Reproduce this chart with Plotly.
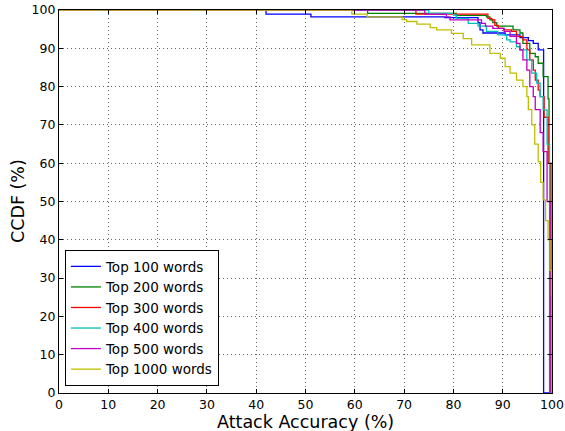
import plotly.graph_objects as go

names = ["Top 100 words", "Top 200 words", "Top 300 words",
         "Top 400 words", "Top 500 words", "Top 1000 words"]
colors = ["#0000ff", "#008000", "#ff0000", "#00bfbf", "#bf00bf", "#bfbf00"]

x_top100 = [0, 42.0, 51.1, 78.3, 85.0, 85.4, 86.0, 90.5, 93.5, 95.2, 96.2, 97.2, 98.3, 100]
y_top100 = [100, 98.9, 98.2, 98.0, 96.7, 94.8, 94.0, 93.5, 92.8, 92.0, 91.3, 89.6, 0, 0]

x_top200 = [0, 62.6, 80.6, 86.7, 87.4, 88.0, 88.8, 92.1, 93.5, 94.1, 95.5, 96.6, 97.2, 98.2, 99.2, 99.4, 99.6, 100]
y_top200 = [100, 99.1, 98.6, 98.2, 97.4, 96.7, 95.8, 94.8, 94.0, 91.3, 88.7, 87.8, 86.1, 82.6, 76.8, 60.0, 0, 0]

x_top300 = [0, 72.4, 87.0, 87.8, 88.4, 89.1, 90.2, 91.8, 92.8, 94.1, 94.9, 95.5, 96.2, 96.6, 97.2, 97.6, 98.4, 99.2, 99.8, 100]
y_top300 = [100, 98.9, 97.8, 97.4, 96.0, 95.2, 94.8, 94.4, 93.1, 92.2, 89.6, 87.0, 84.3, 81.7, 79.1, 77.4, 72.0, 60.0, 0, 0]

x_top400 = [0, 75.0, 80.0, 80.6, 83.0, 85.0, 86.7, 89.0, 90.8, 91.5, 92.8, 93.5, 94.9, 95.9, 96.9, 97.6, 98.2, 99.0, 99.5, 100]
y_top400 = [100, 99.1, 98.7, 97.8, 96.5, 95.8, 94.4, 93.5, 92.2, 91.7, 90.4, 89.6, 87.0, 83.5, 80.9, 77.4, 73.9, 65.0, 0, 0]

x_top500 = [0, 74.2, 78.6, 79.3, 85.7, 86.5, 88.0, 90.3, 91.5, 92.8, 93.5, 94.1, 94.9, 95.5, 96.2, 96.6, 97.6, 98.2, 99.0, 99.6, 100]
y_top500 = [100, 98.9, 98.2, 97.4, 96.5, 95.8, 95.2, 94.4, 93.1, 91.3, 89.6, 87.0, 84.3, 80.0, 77.4, 74.0, 68.0, 63.0, 50.0, 0, 0]

x_top1000 = [0, 59.4, 62.5, 69.6, 70.5, 72.6, 75.3, 76.6, 79.6, 82.0, 83.7, 87.4, 89.5, 90.5, 91.5, 92.8, 94.1, 94.9, 95.2, 95.9, 96.5, 97.2, 97.7, 98.2, 98.7, 99.2, 99.6, 99.9, 100]
y_top1000 = [100, 98.9, 98.2, 97.5, 97.0, 96.3, 95.4, 94.8, 93.9, 92.5, 90.9, 88.7, 87.4, 85.2, 83.5, 81.7, 80.0, 77.4, 74.0, 70.0, 65.0, 60.4, 55.0, 50.4, 45.0, 40.0, 32.0, 25.6, 0]

xs = [x_top100, x_top200, x_top300, x_top400, x_top500, x_top1000]
ys = [y_top100, y_top200, y_top300, y_top400, y_top500, y_top1000]

ticks = list(range(0, 101, 10))
font_family = "DejaVu Sans"

fig = go.Figure()
for name, c, x, y in zip(names, colors, xs, ys):
    fig.add_trace(go.Scatter(x=x, y=y, mode="lines", name=name,
                             line=dict(color=c, width=1.3, shape="hv")))

axis_common = dict(
    range=[0, 100], tickvals=ticks, ticktext=[str(t) for t in ticks],
    showline=True, linecolor="black", linewidth=1.2, mirror="ticks",
    ticks="inside", ticklen=4, tickcolor="black", tickwidth=1,
    showgrid=True, gridcolor="rgba(0,0,0,0.6)", gridwidth=1, griddash="1px,3px",
    zeroline=False, automargin=False,
    tickfont=dict(family=font_family, size=12.5, color="black"),
)

fig.update_layout(
    width=565, height=431,
    margin=dict(l=59, r=13, t=10, b=38),
    paper_bgcolor="white", plot_bgcolor="white",
    font=dict(family=font_family, color="black"),
    xaxis=dict(**axis_common),
    yaxis=dict(**axis_common),
    legend=dict(x=0.012, y=0.018, xanchor="left", yanchor="bottom",
                bgcolor="white", bordercolor="black", borderwidth=1,
                font=dict(family=font_family, size=13.5), tracegroupgap=0),
    showlegend=True,
    annotations=[
        dict(text="Attack Accuracy (%)", xref="paper", yref="paper", x=0.5, y=0,
             xanchor="center", yanchor="top", yshift=-17, showarrow=False,
             font=dict(family=font_family, size=17.5, color="black")),
        dict(text="CCDF (%)", xref="paper", yref="paper", x=0, y=0.5,
             xanchor="center", yanchor="middle", xshift=-41.5, textangle=-90,
             showarrow=False, font=dict(family=font_family, size=17.5, color="black")),
    ],
)

fig.write_html("out.html", config={"displayModeBar": False},
               post_script="document.body.style.margin='0';document.body.style.padding='0';")
